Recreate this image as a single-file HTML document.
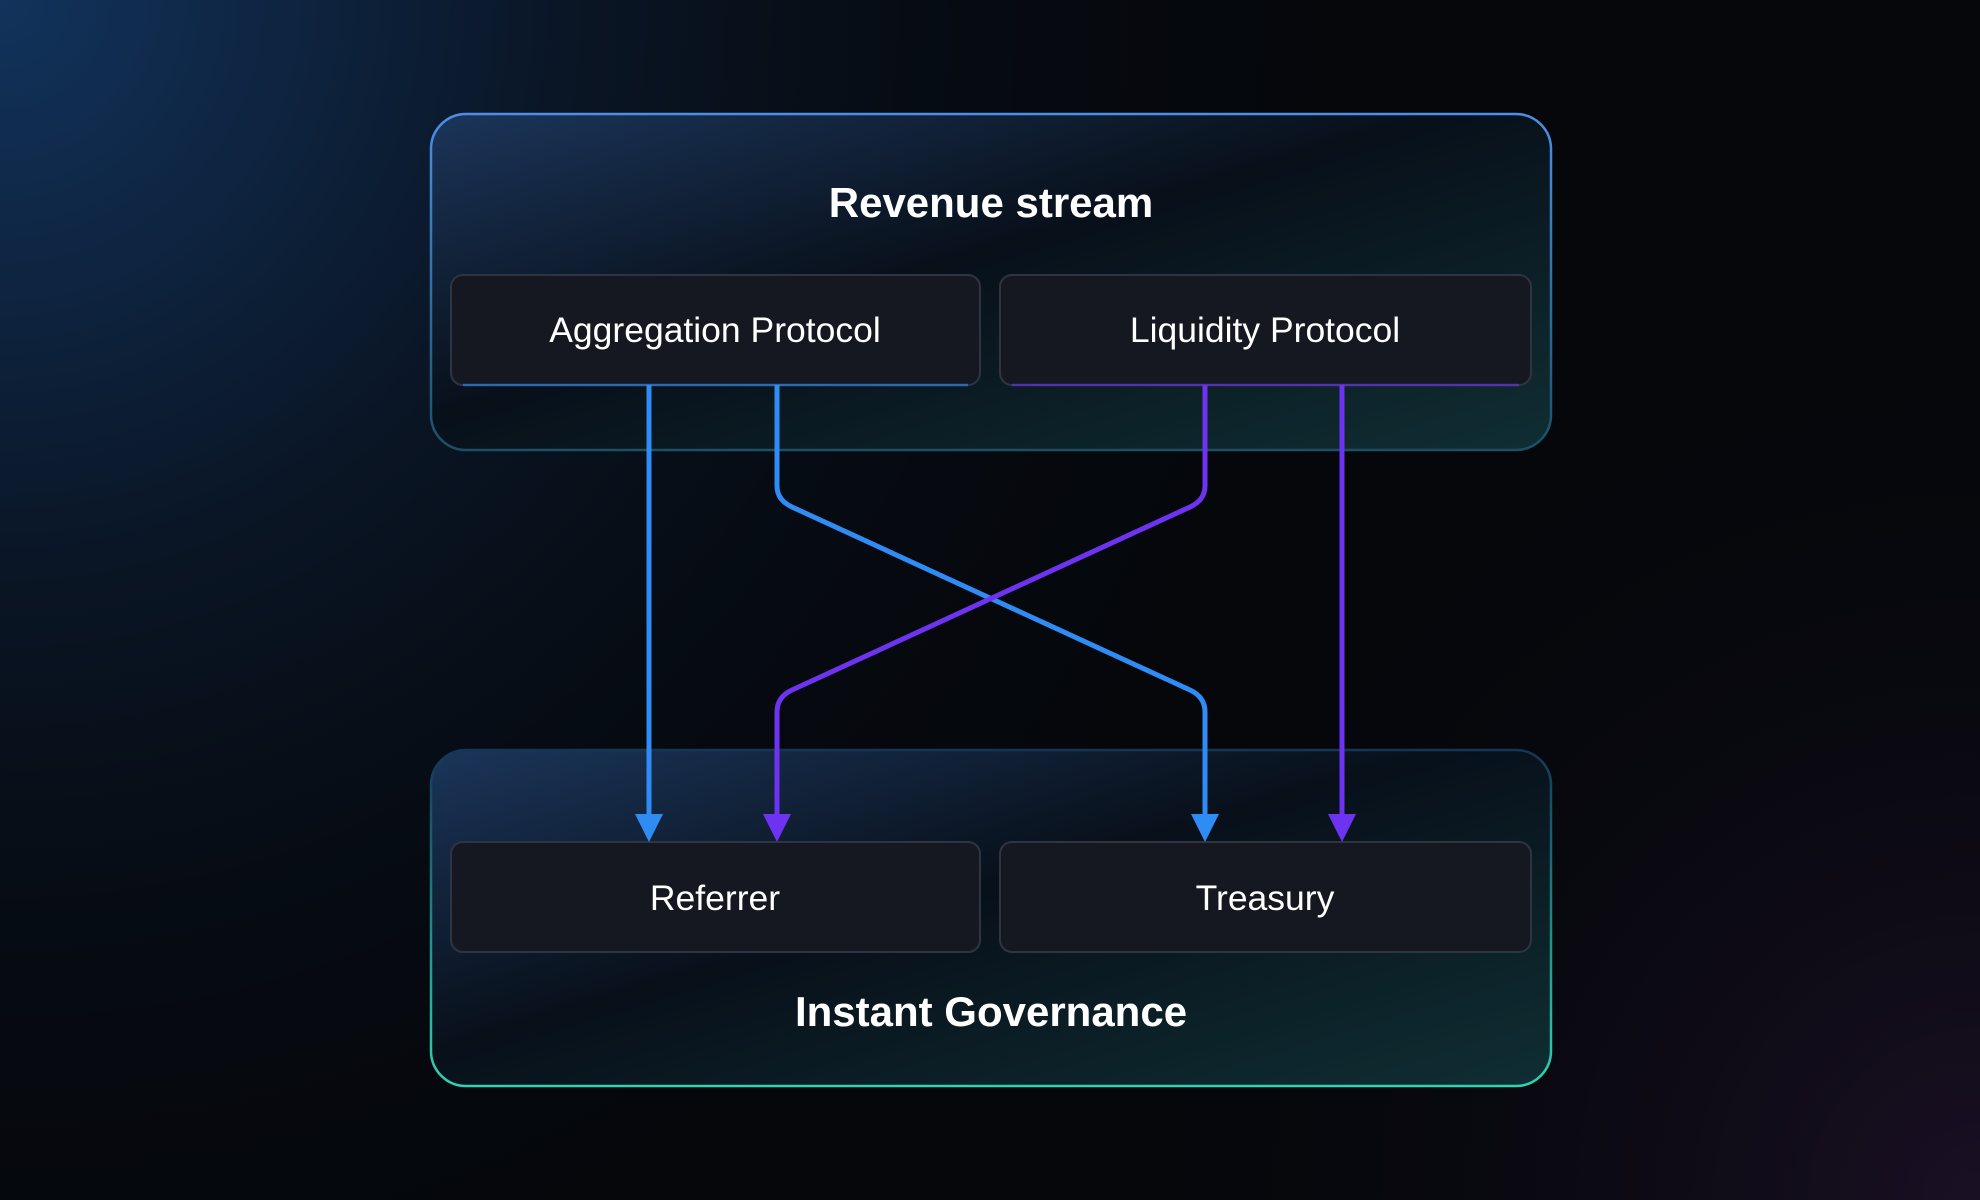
<!DOCTYPE html>
<html><head><meta charset="utf-8"><style>
html,body{margin:0;padding:0;width:1980px;height:1200px;overflow:hidden;background:#05070b}
svg{display:block}
text{font-family:"Liberation Sans",sans-serif;fill:#fff}
</style></head><body>
<svg width="1980" height="1200" viewBox="0 0 1980 1200" xmlns="http://www.w3.org/2000/svg">
<defs>
<radialGradient id="bgA" cx="0" cy="0" r="1400" gradientUnits="userSpaceOnUse">
<stop offset="0" stop-color="#12335c"/><stop offset="0.4" stop-color="#0a1626"/><stop offset="1" stop-color="#05070b" stop-opacity="0"/>
</radialGradient>
<radialGradient id="bgB" cx="1980" cy="1200" r="900" gradientUnits="userSpaceOnUse">
<stop offset="0" stop-color="#1a1024"/><stop offset="1" stop-color="#05070b" stop-opacity="0"/>
</radialGradient>
<linearGradient id="fill" x1="0" y1="0" x2="1" y2="1">
<stop offset="0" stop-color="#1b355a"/><stop offset="0.45" stop-color="#08101a"/><stop offset="1" stop-color="#0f2e33"/>
</linearGradient>
<linearGradient id="b1" x1="0" y1="0" x2="0" y2="1">
<stop offset="0" stop-color="#4d8fe8"/><stop offset="1" stop-color="#1d4f64"/>
</linearGradient>
<linearGradient id="b2" x1="0" y1="0" x2="0" y2="1">
<stop offset="0" stop-color="#143656"/><stop offset="1" stop-color="#2fd4b0"/>
</linearGradient>
<linearGradient id="lineG" x1="0" y1="0" x2="1" y2="0">
<stop offset="0" stop-color="#2f8cf5"/><stop offset="1" stop-color="#6d33f0"/>
</linearGradient>
</defs>
<rect width="1980" height="1200" fill="#05070b"/>
<rect width="1980" height="1200" fill="url(#bgA)"/>
<rect width="1980" height="1200" fill="url(#bgB)"/>

<rect x="431" y="114" width="1120" height="336" rx="35" fill="url(#fill)" stroke="url(#b1)" stroke-width="2.5"/>
<rect x="431" y="750" width="1120" height="336" rx="35" fill="url(#fill)" stroke="url(#b2)" stroke-width="2.5"/>

<text x="991" y="217" font-size="42" font-weight="bold" text-anchor="middle">Revenue stream</text>
<text x="991" y="1026" font-size="42" font-weight="bold" text-anchor="middle">Instant Governance</text>

<rect x="451" y="275" width="529" height="110" rx="12" fill="#151820" stroke="#2e3442" stroke-width="2"/>
<rect x="1000" y="275" width="531" height="110" rx="12" fill="#151820" stroke="#2e3442" stroke-width="2"/>
<rect x="451" y="842" width="529" height="110" rx="12" fill="#151820" stroke="#2e3442" stroke-width="2"/>
<rect x="1000" y="842" width="531" height="110" rx="12" fill="#151820" stroke="#2e3442" stroke-width="2"/>
<line x1="463" y1="385" x2="968" y2="385" stroke="#2f8cf5" stroke-width="2.5" opacity="0.6"/>
<line x1="1012" y1="385" x2="1519" y2="385" stroke="#6d33f0" stroke-width="2.5" opacity="0.6"/>
<line x1="463" y1="842" x2="968" y2="842" stroke="url(#lineG)" stroke-width="2.5" opacity="0.7"/>
<line x1="1012" y1="842" x2="1519" y2="842" stroke="url(#lineG)" stroke-width="2.5" opacity="0.7"/>

<text x="715" y="342" font-size="35.5" text-anchor="middle">Aggregation Protocol</text>
<text x="1265" y="342" font-size="35.5" text-anchor="middle">Liquidity Protocol</text>
<text x="715" y="910" font-size="35.5" text-anchor="middle">Referrer</text>
<text x="1265" y="910" font-size="35.5" text-anchor="middle">Treasury</text>

<g fill="none" stroke-width="5" stroke-linejoin="round">
<path d="M649 385 V818" stroke="#2f8cf5"/>
<path d="M777 385 V486 Q777 500 792 507 L1190 690 Q1205 697 1205 712 V818" stroke="#2f8cf5"/>
<path d="M1205 385 V486 Q1205 500 1190 507 L792 690 Q777 697 777 712 V818" stroke="#6d33f0"/>
<path d="M1342 385 V818" stroke="#6d33f0"/>
</g>
<polygon points="635,814 663,814 649,842" fill="#2f8cf5"/>
<polygon points="763,814 791,814 777,842" fill="#6d33f0"/>
<polygon points="1191,814 1219,814 1205,842" fill="#2f8cf5"/>
<polygon points="1328,814 1356,814 1342,842" fill="#6d33f0"/>
</svg>
</body></html>
